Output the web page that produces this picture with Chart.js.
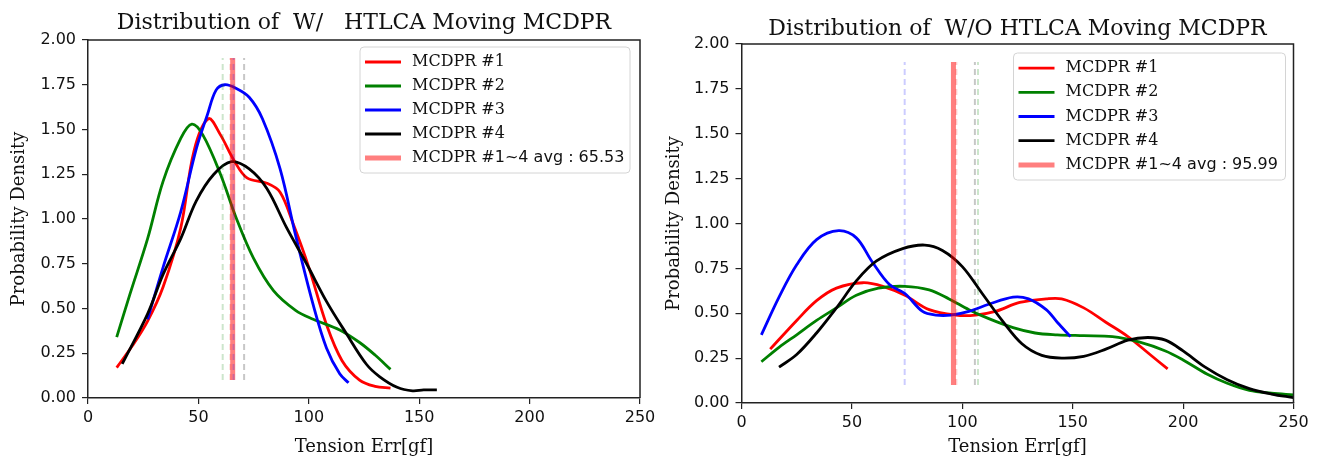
<!DOCTYPE html>
<html>
<head>
<meta charset="utf-8">
<script src="https://cdn.jsdelivr.net/npm/chart.js@4.4.1/dist/chart.umd.min.js"></script>
<style>
  body { margin: 0; background: #fff; width: 1320px; height: 456px; overflow: hidden; position: relative; }
  .panel { position: absolute; top: 0; width: 660px; height: 456px; }
</style>
</head>
<body>
<div class="panel" style="left:0"><canvas id="leftChart" width="660" height="456"></canvas></div>
<div class="panel" style="left:660px"><canvas id="rightChart" width="660" height="456"></canvas></div>
<script>
// ---- data ----
const seriesLabels = ['MCDPR #1', 'MCDPR #2', 'MCDPR #3', 'MCDPR #4'];
const seriesColors = ['#ff0000', '#008000', '#0000ff', '#000000'];
const xTicks = [0, 50, 100, 150, 200, 250];
const yTicks = [0, 0.25, 0.5, 0.75, 1, 1.25, 1.5, 1.75, 2];
const meanSpan = [0.1, 1.9];

// W/ HTLCA
const wX1 = [13, 20, 27, 34, 42, 48, 54.5, 60, 66, 72, 81, 87, 93, 100, 108, 115, 123, 130, 137];
const wY1 = [0.17, 0.29, 0.43, 0.62, 0.95, 1.38, 1.56, 1.47, 1.33, 1.23, 1.20, 1.15, 0.97, 0.73, 0.41, 0.21, 0.10, 0.065, 0.055];
const wX2 = [13, 19, 27, 34, 42, 47, 52, 60, 67, 75, 84, 94, 102, 114, 123, 130, 137];
const wY2 = [0.34, 0.58, 0.89, 1.21, 1.45, 1.53, 1.47, 1.25, 1.01, 0.78, 0.60, 0.49, 0.44, 0.38, 0.31, 0.24, 0.16];
const wX3 = [27, 34, 42, 49, 54, 58, 62, 67, 73, 79, 87, 94, 102, 108, 114, 118];
const wY3 = [0.44, 0.73, 1.04, 1.39, 1.58, 1.72, 1.75, 1.73, 1.68, 1.56, 1.28, 0.91, 0.52, 0.28, 0.135, 0.085];
const wX4 = [15.5, 27, 34, 42, 49, 57, 65, 73, 81, 90, 99, 108, 117, 126, 132, 140, 147, 152, 158];
const wY4 = [0.19, 0.47, 0.69, 0.89, 1.10, 1.25, 1.32, 1.28, 1.17, 0.95, 0.75, 0.54, 0.36, 0.19, 0.12, 0.06, 0.04, 0.045, 0.045];
const wMeans = [64.5, 61.0, 65.9, 70.7];
const wAvg = 65.53;

// W/O HTLCA
const woX1 = [13, 25, 34, 43, 55, 64, 74, 85, 97, 106, 115, 126, 138, 145, 155, 165, 175, 185, 193];
const woY1 = [0.30, 0.46, 0.57, 0.64, 0.67, 0.65, 0.60, 0.52, 0.49, 0.49, 0.51, 0.56, 0.58, 0.58, 0.53, 0.45, 0.37, 0.27, 0.19];
const woX2 = [9, 17, 25, 34, 43, 52, 62, 74, 85, 94, 103, 112, 123, 133, 143, 155, 168, 180, 192, 200, 211, 220, 230, 240, 250];
const woY2 = [0.23, 0.31, 0.38, 0.46, 0.53, 0.60, 0.64, 0.65, 0.63, 0.58, 0.52, 0.47, 0.42, 0.39, 0.38, 0.375, 0.37, 0.34, 0.29, 0.24, 0.16, 0.11, 0.07, 0.055, 0.045];
const woX3 = [9, 17, 25, 34, 44, 52, 59, 67, 74, 82, 88, 95, 103, 112, 123, 130, 138, 143, 149];
const woY3 = [0.38, 0.59, 0.77, 0.91, 0.96, 0.92, 0.79, 0.66, 0.61, 0.51, 0.49, 0.49, 0.51, 0.55, 0.59, 0.58, 0.52, 0.45, 0.37];
const woX4 = [17, 25, 34, 43, 52, 61, 73, 83, 91, 100, 109, 118, 127, 136, 145, 155, 165, 175, 184, 192, 200, 210, 220, 230, 240, 250];
const woY4 = [0.20, 0.27, 0.39, 0.53, 0.68, 0.79, 0.86, 0.88, 0.85, 0.76, 0.61, 0.46, 0.33, 0.265, 0.25, 0.26, 0.30, 0.35, 0.365, 0.35, 0.29, 0.20, 0.13, 0.08, 0.05, 0.03];
const woMeans = [97.3, 107.1, 73.9, 105.7];
const woAvg = 95.99;

const meanColors = ['rgba(255,0,0,0.2)', 'rgba(0,128,0,0.2)', 'rgba(0,0,255,0.2)', 'rgba(0,0,0,0.22)'];
const serif = "'DejaVu Serif', serif";
const sans = "'DejaVu Sans', sans-serif";

// legend box inside the plot, top right
const boxLegend = {
  id: 'boxLegend',
  afterDraw(chart, args, opts) {
    const ctx = chart.ctx, a = chart.chartArea;
    const items = chart.data.datasets.filter(d => d.inLegend);
    const w = opts.width, rowH = opts.rowH;
    const x0 = a.right - opts.right - w, y0 = a.top + opts.top;
    const h = items.length * rowH + 6;
    ctx.save();
    ctx.beginPath();
    ctx.roundRect(x0, y0, w, h, 4);
    ctx.fillStyle = 'rgba(255,255,255,0.85)';
    ctx.fill();
    ctx.strokeStyle = '#d4d4d4';
    ctx.lineWidth = 1;
    ctx.stroke();
    ctx.textBaseline = 'middle';
    items.forEach((d, i) => {
      const cy = y0 + 3 + rowH * (i + 0.5);
      ctx.setLineDash([]);
      ctx.strokeStyle = d.borderColor;
      ctx.lineWidth = d.borderWidth;
      ctx.beginPath();
      ctx.moveTo(x0 + 5, cy);
      ctx.lineTo(x0 + 41, cy);
      ctx.stroke();
      ctx.fillStyle = '#111';
      let tx = x0 + 52;
      const parts = d.label.split(' ');
      ctx.font = '16px ' + serif;
      if (d.label.indexOf('avg') >= 0) {
        ctx.fillText(parts[0] + ' ', tx, cy);
        tx += ctx.measureText(parts[0] + ' ').width;
        ctx.font = '16px ' + sans;
        ctx.fillText(parts.slice(1).join(' '), tx, cy);
      } else {
        ctx.fillText(d.label, tx, cy);
      }
    });
    ctx.restore();
  }
};

// top and right spines
const frame = {
  id: 'frame',
  afterDraw(chart) {
    const ctx = chart.ctx, a = chart.chartArea;
    ctx.save();
    ctx.strokeStyle = '#222';
    ctx.lineWidth = 1.5;
    ctx.beginPath();
    ctx.moveTo(a.left, a.top);
    ctx.lineTo(a.right, a.top);
    ctx.lineTo(a.right, a.bottom);
    ctx.stroke();
    ctx.restore();
  }
};

function curve(i, xs, ys) {
  return {
    label: seriesLabels[i],
    data: xs.map((x, k) => ({ x: x, y: ys[k] })),
    borderColor: seriesColors[i],
    borderWidth: 2.8,
    pointRadius: 0,
    tension: 0.35,
    inLegend: true,
    order: 4 - i
  };
}

function meanLine(x, color, dashed, width) {
  return {
    label: 'mean',
    data: [{ x: x, y: meanSpan[0] }, { x: x, y: meanSpan[1] }],
    borderColor: color,
    borderWidth: width,
    borderDash: dashed ? [6, 4] : [],
    pointRadius: 0,
    order: 0
  };
}

function makeChart(id, title, xs, ys, means, avg, lay) {
  const datasets = [];
  for (let i = 0; i < 4; i++) datasets.push(curve(i, xs[i], ys[i]));
  means.forEach((m, i) => datasets.push(meanLine(m, meanColors[i], true, 2)));
  const avgLine = meanLine(avg, 'rgba(255,0,0,0.5)', false, 5);
  avgLine.label = 'MCDPR #1~4 avg : ' + avg.toFixed(2);
  avgLine.inLegend = true;
  datasets.push(avgLine);

  return new Chart(document.getElementById(id), {
    type: 'line',
    data: { datasets: datasets },
    plugins: [frame, boxLegend],
    options: {
      responsive: false,
      animation: false,
      devicePixelRatio: 1,
      layout: { padding: { left: 0, right: lay.padRight, top: 0, bottom: 0 } },
      plugins: {
        legend: { display: false },
        tooltip: { enabled: false },
        title: {
          display: true,
          text: title,
          fullSize: false,
          color: '#111',
          font: { family: serif, size: 22, weight: 'normal' },
          padding: lay.titlePad
        },
        boxLegend: lay.legend
      },
      scales: {
        x: {
          type: 'linear',
          min: 0,
          max: 250,
          afterBuildTicks: s => { s.ticks = xTicks.map(v => ({ value: v })); },
          afterFit: s => { s.height = lay.xHeight; },
          ticks: { color: '#111', font: { family: sans, size: 16 }, padding: 4, maxRotation: 0, autoSkip: false },
          grid: { display: true, drawOnChartArea: false, drawTicks: true, tickLength: 6, color: '#222', lineWidth: 1.2 },
          border: { display: true, color: '#222', width: 1.5 },
          title: { display: true, text: 'Tension Err[gf]', color: '#111', font: { family: serif, size: 18 }, padding: { top: 0, bottom: -2 } }
        },
        y: {
          min: 0,
          max: 2,
          afterBuildTicks: s => { s.ticks = yTicks.map(v => ({ value: v })); },
          afterFit: s => { s.width = lay.yWidth; },
          ticks: { color: '#111', font: { family: sans, size: 16 }, padding: 6, callback: v => v.toFixed(2) },
          grid: { display: true, drawOnChartArea: false, drawTicks: true, tickLength: 6, color: '#222', lineWidth: 1.2 },
          border: { display: true, color: '#222', width: 1.5 },
          title: { display: true, text: 'Probability Density', color: '#111', font: { family: serif, size: 18 }, padding: { top: lay.yTitlePad, bottom: 0 } }
        }
      }
    }
  });
}

makeChart('leftChart', 'Distribution of  W/   HTLCA Moving MCDPR',
  [wX1, wX2, wX3, wX4], [wY1, wY2, wY3, wY4], wMeans, wAvg,
  { padRight: 20, yWidth: 88, xHeight: 58, titlePad: { top: 10.5, bottom: 3.1 }, yTitlePad: 9,
    legend: { right: 10, top: 7, width: 270, rowH: 24 } });

makeChart('rightChart', 'Distribution of  W/O HTLCA Moving MCDPR',
  [woX1, woX2, woX3, woX4], [woY1, woY2, woY3, woY4], woMeans, woAvg,
  { padRight: 26.5, yWidth: 81.5, xHeight: 53, titlePad: { top: 16, bottom: 1.6 }, yTitlePad: 4,
    legend: { right: 8, top: 9, width: 272, rowH: 24.2 } });
</script>
</body>
</html>
